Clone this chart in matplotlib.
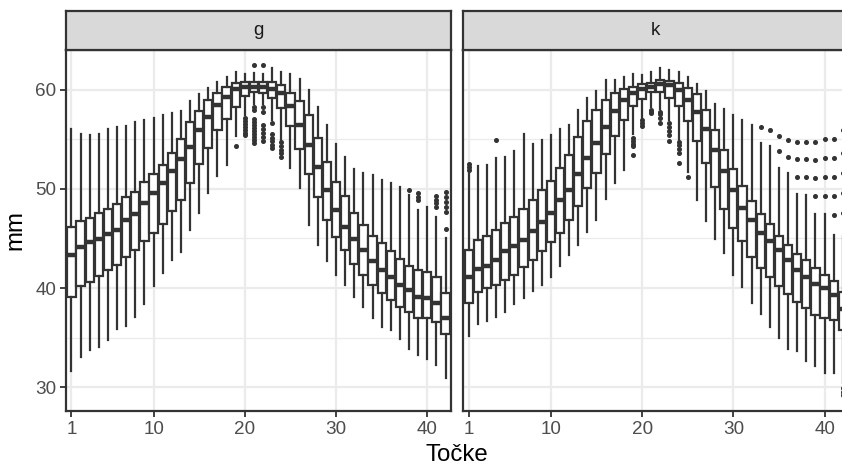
import matplotlib
matplotlib.use("Agg")
import matplotlib.pyplot as plt

plt.rcParams['font.family'] = ['Liberation Sans', 'DejaVu Sans']

panels = ["g", "k"]
positions = list(range(1, 43))
x_breaks = [1, 10, 20, 30, 40]
y_breaks = [30, 40, 50, 60]
x_label = "Točke"
y_label = "mm"

# ---- panel g ----
g_lo = [31.6, 33.1, 33.8, 34.1, 34.8, 35.9, 36.2, 37.1, 38.4, 40.2, 41.5, 42.8, 43.6, 45.9,
        47.6, 49.6, 51.3, 52.4, 55.3, 57.4, 58.6, 58.6, 56.9, 54.9, 52.1, 50.1, 46.4, 44.3,
        42.7, 41.3, 40.3, 39.1, 38.1, 37.0, 36.1, 35.8, 34.9, 33.9, 33.3, 32.9, 32.2, 30.9]
g_q1 = [39.1, 40.2, 40.6, 41.2, 41.8, 42.3, 43.1, 43.8, 44.7, 45.6, 46.5, 47.8, 48.9, 50.6,
        52.5, 54.1, 55.9, 57.0, 58.3, 59.4, 59.8, 59.7, 59.2, 58.2, 56.3, 54.0, 51.5, 49.2,
        46.9, 45.1, 43.8, 42.4, 41.3, 40.3, 39.5, 38.8, 38.1, 37.6, 37.0, 37.0, 36.6, 35.4]
g_med = [43.3, 44.1, 44.6, 44.9, 45.5, 45.9, 46.9, 47.5, 48.6, 49.6, 50.6, 51.8, 53.0, 54.2,
         55.9, 57.2, 58.5, 59.3, 60.1, 60.3, 60.3, 60.3, 60.1, 59.7, 58.4, 56.4, 54.4, 52.2,
         49.9, 47.9, 46.2, 44.9, 43.8, 42.7, 41.8, 41.1, 40.3, 39.8, 39.1, 39.0, 38.5, 37.0]
g_q3 = [46.2, 46.8, 47.1, 47.6, 48.0, 48.5, 49.2, 49.7, 50.7, 51.5, 52.4, 53.6, 55.0, 56.7,
        57.9, 59.0, 59.7, 60.3, 60.7, 60.8, 60.8, 60.8, 60.8, 60.5, 59.7, 58.9, 57.4, 55.1,
        52.7, 50.7, 49.3, 47.6, 46.4, 45.3, 44.5, 43.7, 42.9, 42.2, 41.8, 41.6, 41.1, 39.5]
g_hi = [56.0, 55.5, 55.4, 55.5, 56.0, 56.2, 56.3, 56.7, 56.9, 57.1, 57.4, 57.6, 57.9, 58.9,
        59.6, 60.2, 60.8, 61.3, 61.8, 61.6, 61.7, 61.6, 62.2, 61.8, 61.6, 61.1, 60.0, 58.3,
        56.4, 54.5, 53.2, 52.0, 51.6, 51.4, 50.9, 50.6, 50.2, 49.4, 47.9, 48.2, 47.2, 45.0]
g_out = {19: [54.3],
         20: [57.1, 56.8, 56.5, 56.2, 55.9, 55.6, 55.4],
         21: [62.5, 58.3, 58.0, 57.0, 56.7, 56.4, 56.1, 55.8, 55.5, 55.2, 54.9, 54.6],
         22: [62.5, 58.3, 57.8, 56.4, 56.0, 55.6, 55.2, 54.8],
         23: [56.6, 55.5, 55.1, 54.8, 54.4, 54.1],
         24: [54.7, 54.3, 53.9, 53.6, 53.2],
         38: [49.9],
         39: [49.6, 49.2, 48.9],
         41: [49.3, 48.9, 48.6, 48.2],
         42: [49.7, 49.2, 48.7, 48.2, 47.7, 46.0]}

# ---- panel k ----
k_lo = [35.2, 36.4, 36.7, 37.1, 37.6, 38.4, 39.0, 39.7, 40.3, 41.1, 42.2, 43.3, 44.3, 45.7,
        46.9, 49.0, 50.6, 51.9, 55.5, 57.1, 58.3, 58.1, 56.9, 54.9, 51.7, 48.9, 46.8, 44.9,
        43.5, 41.3, 40.1, 38.5, 37.4, 36.1, 35.0, 33.9, 33.7, 32.6, 32.1, 31.4, 31.4, 30.4]
k_q1 = [38.5, 39.6, 40.0, 40.3, 40.8, 41.3, 42.1, 42.8, 43.7, 44.6, 45.6, 46.9, 48.3, 50.1,
        51.6, 53.5, 55.3, 56.9, 58.4, 59.1, 59.8, 59.8, 59.2, 58.4, 56.8, 54.8, 52.6, 50.2,
        48.0, 46.1, 44.7, 43.1, 42.0, 41.1, 40.2, 39.4, 38.6, 38.0, 37.3, 37.0, 36.8, 35.8]
k_med = [41.1, 41.9, 42.2, 42.8, 43.7, 44.2, 44.8, 45.8, 46.7, 47.6, 48.9, 49.9, 51.5, 53.1,
         54.6, 56.2, 57.9, 59.0, 59.7, 60.1, 60.3, 60.6, 60.5, 60.0, 59.0, 57.8, 56.0, 53.9,
         51.8, 49.9, 48.1, 46.9, 45.6, 44.7, 43.8, 42.8, 41.8, 41.1, 40.4, 40.0, 39.3, 37.9]
k_q3 = [43.8, 44.8, 45.3, 45.9, 46.6, 47.2, 48.0, 48.9, 49.9, 50.8, 52.1, 53.4, 55.2, 56.8,
        58.0, 59.0, 59.7, 60.1, 60.3, 60.6, 60.7, 61.0, 60.9, 60.7, 60.2, 59.6, 58.0, 55.9,
        53.9, 52.0, 50.3, 48.8, 47.5, 46.5, 45.3, 44.3, 43.4, 42.8, 42.0, 41.3, 40.7, 39.6]
k_hi = [51.6, 52.3, 52.4, 53.1, 53.2, 53.8, 55.5, 54.5, 54.9, 55.4, 56.0, 56.4, 58.0, 59.2,
        59.9, 61.0, 61.0, 61.3, 61.6, 61.5, 61.8, 62.2, 62.0, 61.8, 61.3, 60.6, 59.9, 58.6,
        58.1, 57.4, 56.9, 56.4, 54.6, 54.3, 52.1, 51.6, 49.5, 49.4, 47.5, 47.5, 45.4, 45.2]
k_out = {1: [52.5, 52.2, 51.9],
         4: [54.9],
         19: [55.1, 54.8, 54.5, 54.3, 53.4],
         20: [56.9, 56.6, 56.3],
         21: [58.0, 57.8, 57.6],
         22: [57.8, 57.5, 57.1, 56.6],
         23: [56.6, 56.2, 55.8, 55.4, 54.8],
         24: [54.7, 54.4, 54.0, 53.6, 52.6],
         25: [51.2],
         33: [56.2],
         34: [55.9],
         35: [55.3, 53.8],
         36: [54.9, 53.2],
         37: [54.7, 53.0, 51.2],
         38: [54.7, 53.0, 51.2],
         39: [54.7, 52.9, 51.1, 49.3],
         40: [55.0, 53.1, 51.2, 49.3],
         41: [55.0, 53.1, 51.2, 49.3, 47.4],
         42: [55.9, 53.6, 51.6, 49.6, 47.6, 29.9, 29.5, 29.2]}

data = {"g": (g_lo, g_q1, g_med, g_q3, g_hi, g_out),
        "k": (k_lo, k_q1, k_med, k_q3, k_hi, k_out)}

W, H = 842, 468
fig = plt.figure(figsize=(W / 100, H / 100), dpi=100)

dark = "#333333"
grid_c = "#EBEBEB"
panel_w = 385
panel_left = [66, 463.3]
panel_top, panel_bot = 49.5, 410.7
strip_top = 11

for i, name in enumerate(panels):
    lo, q1, med, q3, hi, out = data[name]
    left = panel_left[i] / W
    ax = fig.add_axes([left, (H - panel_bot) / H, panel_w / W, (panel_bot - panel_top) / H])
    stats = []
    for j, p in enumerate(positions):
        stats.append(dict(med=med[j], q1=q1[j], q3=q3[j], whislo=lo[j], whishi=hi[j],
                          fliers=out.get(p, [])))
    ax.bxp(stats, positions=positions, widths=0.9, patch_artist=True, showcaps=False,
           boxprops=dict(facecolor="white", edgecolor=dark, linewidth=1.6),
           medianprops=dict(color=dark, linewidth=3.2, solid_capstyle="butt"),
           whiskerprops=dict(color=dark, linewidth=1.6),
           flierprops=dict(marker="o", markerfacecolor=dark, markeredgecolor=dark,
                           markersize=2.6, linestyle="none"),
           manage_ticks=False, zorder=3)
    ax.set_xlim(0.4, 42.6)
    ax.set_ylim(27.64, 64.05)
    ax.set_xticks(x_breaks)
    ax.set_xticklabels([str(v) for v in x_breaks])
    ax.set_yticks(y_breaks)
    ax.set_yticks([35, 45, 55], minor=True)
    ax.grid(True, which="major", color=grid_c, linewidth=1.6, zorder=0)
    ax.grid(True, which="minor", axis="y", color=grid_c, linewidth=0.9, zorder=0)
    ax.set_axisbelow(True)
    for s in ax.spines.values():
        s.set_color(dark)
        s.set_linewidth(1.6)
    ax.tick_params(axis="both", which="major", length=4.1, width=1.3, color=dark,
                   labelcolor="#4D4D4D", labelsize=13.6, pad=3.0)
    ax.tick_params(axis="y", which="minor", length=0)
    if i == 1:
        ax.tick_params(axis="y", which="both", left=False, labelleft=False)

    sax = fig.add_axes([left, (H - panel_top) / H, panel_w / W, (panel_top - strip_top) / H])
    sax.set_facecolor("#D9D9D9")
    sax.set_xticks([])
    sax.set_yticks([])
    for s in sax.spines.values():
        s.set_color(dark)
        s.set_linewidth(1.6)
    sax.text(0.5, 0.5, name, transform=sax.transAxes, ha="center", va="center",
             fontsize=13.6, color="#1A1A1A")

fig.text(457 / W, 1 - 455 / H, x_label, ha="center", va="center", fontsize=17.3, color="black")
fig.text(15.5 / W, 1 - 230 / H, y_label, ha="center", va="center", rotation=90,
         fontsize=17.3, color="black")

fig.savefig("out.png", dpi=100)
